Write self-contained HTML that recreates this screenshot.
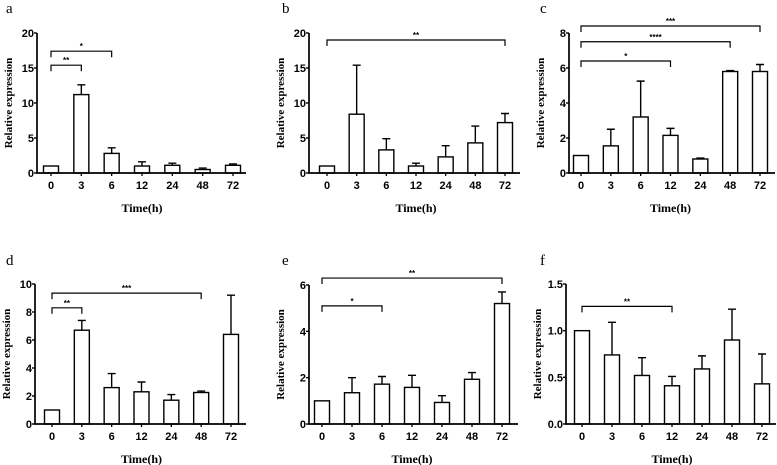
<!DOCTYPE html>
<html><head><meta charset="utf-8"><style>
body{margin:0;background:#fff;width:777px;height:465px;overflow:hidden}
svg{display:block}
text{fill:#000}
.tk{font-family:"Liberation Sans",sans-serif;font-weight:bold;font-size:11px}
.yt{font-family:"Liberation Serif",serif;font-weight:bold;font-size:11px}
.xt{font-family:"Liberation Serif",serif;font-weight:bold;font-size:12px}
.pl{font-family:"Liberation Serif",serif;font-size:15px}
.st{font-family:"Liberation Sans",sans-serif;font-weight:bold;font-size:8px}
</style></head><body>
<svg id="chart" width="777" height="465"></svg>
<script>
const categories=["0","3","6","12","24","48","72"];
const valuesA=[1,11.2,2.8,1.0,1.1,0.5,1.1];
const errTopA=[1,12.6,3.6,1.6,1.4,0.7,1.3];
const valuesB=[1,8.4,3.3,1.0,2.3,4.3,7.2];
const errTopB=[1,15.4,4.9,1.4,3.9,6.7,8.5];
const valuesC=[1,1.55,3.2,2.15,0.8,5.8,5.8];
const errTopC=[1,2.5,5.25,2.55,0.85,5.85,6.2];
const valuesD=[1,6.7,2.6,2.3,1.7,2.25,6.4];
const errTopD=[1,7.4,3.6,3.0,2.1,2.35,9.2];
const valuesE=[1,1.35,1.72,1.58,0.93,1.93,5.2];
const errTopE=[1,2.0,2.05,2.1,1.22,2.22,5.7];
const valuesF=[1,0.74,0.52,0.41,0.59,0.9,0.43];
const errTopF=[1,1.09,0.71,0.51,0.73,1.23,0.75];
const ticksA=[0,5,10,15,20], ticksC=[0,2,4,6,8], ticksD=[0,2,4,6,8,10], ticksE=[0,2,4,6], ticksF=[0,0.5,1.0,1.5];
const tickLabelsF=["0.0","0.5","1.0","1.5"];
const sigA=[[1,15.4,"**"],[2,17.4,"*"]];
const sigB=[[6,19,"**"]];
const sigC=[[3,6.4,"*"],[5,7.5,"****"],[6,8.4,"***"]];
const sigD=[[1,8.3,"**"],[5,9.35,"***"]];
const sigE=[[2,5.1,"*"],[6,6.3,"**"]];
const sigF=[[3,1.26,"**"]];

const NS="http://www.w3.org/2000/svg";
const svg=document.getElementById("chart");
function mk(parent,tag,attrs,text){const e=document.createElementNS(NS,tag);for(const k in attrs)e.setAttribute(k,attrs[k]);if(text!==undefined)e.textContent=text;parent.appendChild(e);return e;}

function panel(id,letter,lx,ly,ax,top,bot,x0,x1,xEnd,maxV,ticks,tickLabels,vals,errs,sigs,showTime){
  const g=mk(svg,"g",{});
  
  
  const ys=v=>bot-(v/maxV)*(bot-top);
  const step=(x1-x0)/(categories.length-1);
  const xs=i=>x0+i*step;
  const L=mk(g,"text",{x:lx,y:ly,class:"pl"},letter);
  
  
  vals.forEach((v,i)=>{
    const cx=xs(i);
    const et=errs[i];
    if(et>v+0.0001){
      const e=mk(g,"path",{d:`M${cx} ${ys(v)}V${ys(et)}M${cx-4} ${ys(et)}H${cx+4}`,stroke:"#000","stroke-width":1.4,fill:"none"});
      
      
    }
    const b=mk(g,"rect",{x:cx-7.5,y:ys(v),width:15,height:bot-ys(v),fill:"#fff",stroke:"#000","stroke-width":1.4});
    
    
    const t=mk(g,"text",{x:cx,y:bot+16,class:"tk","text-anchor":"middle"},categories[i]);
    
    
    mk(g,"line",{x1:cx,x2:cx,y1:bot,y2:bot+3,stroke:"#000","stroke-width":1.3});
  });
  const a=mk(g,"path",{d:`M${ax} ${top}V${bot}H${xEnd}`,stroke:"#000","stroke-width":1.7,fill:"none"});
  
  
  ticks.forEach((t,i)=>{
    mk(g,"line",{x1:ax-3,x2:ax,y1:ys(t),y2:ys(t),stroke:"#000","stroke-width":1.4});
    const tl=mk(g,"text",{x:ax-3,y:ys(t)+4,class:"tk","text-anchor":"end"},tickLabels?tickLabels[i]:String(t));
    
    
  });
  const yt=mk(g,"text",{x:0,y:0,class:"yt","text-anchor":"middle",transform:`translate(${ax-25},${(top+bot)/2}) rotate(-90)`},"Relative expression");
  
  
  if(showTime){
    const xt=mk(g,"text",{x:(x0+x1)/2,y:bot+39,class:"xt","text-anchor":"middle"},"Time(h)");
    
    
  }
  sigs.forEach(s=>{
    const y=ys(s[1]), xa=xs(0), xb=xs(s[0]);
    const br=mk(g,"path",{d:`M${xa} ${y+6}V${y}H${xb}V${y+6}`,stroke:"#000","stroke-width":1.2,fill:"none"});
    
    
    const st=mk(g,"text",{x:(xa+xb)/2,y:y-2,class:"st","text-anchor":"middle"},s[2]);
    
    
  });
}
panel("a","a",6,13,37,33,173,51,233,246,20,ticksA,null,valuesA,errTopA,sigA,true);
panel("b","b",282,13,309,33,173,327,505,520,20,ticksA,null,valuesB,errTopB,sigB,true);
panel("c","c",540,13,569,33,173,581,760,775,8,ticksC,null,valuesC,errTopC,sigC,true);
panel("d","d",6,265,35,284,424,52,231,246,10,ticksD,null,valuesD,errTopD,sigD,true);
panel("e","e",282,265,309,285,424,322,502,518,6,ticksE,null,valuesE,errTopE,sigE,true);
panel("f","f",540,265,566,284,424,582,762,776,1.5,ticksF,tickLabelsF,valuesF,errTopF,sigF,true);
</script>
</body></html>
